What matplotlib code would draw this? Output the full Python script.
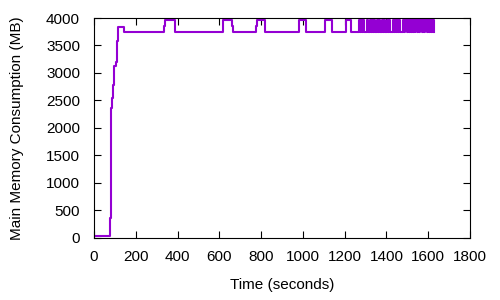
import matplotlib
matplotlib.use("Agg")
import matplotlib.pyplot as plt

# step changes: time (s) and memory (MB) held until the next time
times = [0, 77, 80, 86, 91, 96, 105, 110, 115, 144, 335, 340, 388,
         617, 660, 665, 775, 780, 818, 981, 1015, 1106, 1139, 1206, 1230,
         1268, 1274, 1277, 1283, 1286, 1292, 1307, 1312,
         1321, 1327, 1330, 1336, 1339, 1345, 1355, 1360, 1363, 1369,
         1379, 1384, 1387, 1393, 1403, 1408, 1411, 1417,
         1431, 1437, 1440, 1446, 1449, 1455, 1458, 1465,
         1479, 1485, 1488, 1498,
         1503, 1509, 1512, 1518, 1521, 1527, 1530, 1536, 1539, 1546,
         1551, 1557, 1560, 1570, 1575, 1581, 1584, 1594,
         1599, 1605, 1608, 1614, 1617, 1622, 1624, 1628]
memory = [30, 363, 2369, 2551, 2782, 3127, 3206, 3588, 3842, 3750, 3850, 3960, 3750,
          3960, 3850, 3750, 3850, 3960, 3750, 3960, 3750, 3960, 3750, 3960, 3750,
          3960, 3750, 3960, 3750, 3960, 3750, 3960, 3750,
          3960, 3750, 3960, 3750, 3960, 3750, 3960, 3750, 3960, 3750,
          3960, 3750, 3960, 3750, 3960, 3750, 3960, 3750,
          3960, 3750, 3960, 3750, 3960, 3750, 3960, 3750,
          3960, 3750, 3960, 3750,
          3960, 3750, 3960, 3750, 3960, 3750, 3960, 3750, 3960, 3750,
          3960, 3750, 3960, 3750, 3960, 3750, 3960, 3750,
          3960, 3750, 3960, 3750, 3960, 3750, 3960, 3750]

x_ticks = list(range(0, 1801, 200))
y_ticks = list(range(0, 4001, 500))

plt.rcParams['font.family'] = ['Liberation Sans', 'DejaVu Sans']
plt.rcParams['font.size'] = 11

fig = plt.figure(figsize=(5, 3), dpi=100)
ax = fig.add_axes([0.188, 0.207, 0.752, 0.733])
ax.step(times, memory, where="post", color="#9400D3", linewidth=1.5)

ax.set_xlim(0, 1800)
ax.set_ylim(0, 4000)
ax.set_xticks(x_ticks)
ax.set_yticks(y_ticks)
ax.tick_params(axis="y", pad=10)
ax.tick_params(axis="x", pad=9)
ax.tick_params(direction="in", top=True, right=True, length=5, width=0.8)
for s in ax.spines.values():
    s.set_linewidth(0.8)
ax.set_xlabel("Time (seconds)", labelpad=10)
ax.set_ylabel("Main Memory Consumption (MB)", labelpad=16)

fig.savefig("out.png", dpi=100)
